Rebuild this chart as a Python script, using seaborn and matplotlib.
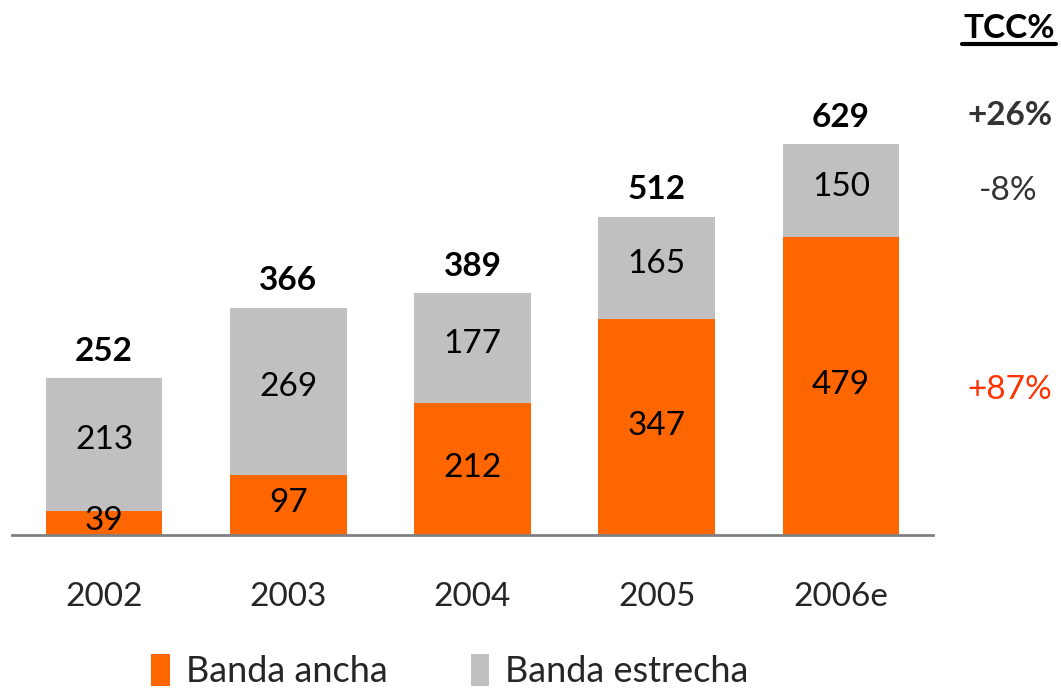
import matplotlib.pyplot as plt
import matplotlib.lines as mlines
import seaborn as sns

years = ['2002', '2003', '2004', '2005', '2006e']
banda_ancha = [39, 97, 212, 347, 479]
banda_estrecha = [213, 269, 177, 165, 150]
totals = [252, 366, 389, 512, 629]
tcc_labels = ['+26%', '-8%', '+87%']

orange = '#FF6600'
grey = '#C0C0C0'

sns.set_theme(style='white')
plt.rcParams['font.family'] = ['Lato', 'DejaVu Sans']

fig = plt.figure(figsize=(10.61, 6.88), dpi=100)
ax = fig.add_axes([0.0113, 0.2224, 0.8681, 0.6323])

# stacked bars: total in grey behind, banda ancha in orange on top
sns.barplot(x=years, y=totals, color=grey, width=0.634, ax=ax,
            label='Banda estrecha', saturation=1, linewidth=0)
sns.barplot(x=years, y=banda_ancha, color=orange, width=0.634, ax=ax,
            label='Banda ancha', saturation=1, linewidth=0)

grey_bars = ax.containers[0]
orange_bars = ax.containers[1]

# segment labels
for rect, val in zip(orange_bars, banda_ancha):
    ax.annotate(str(val), (rect.get_x() + rect.get_width() / 2, val / 2),
                xytext=(0, 1), textcoords='offset points',
                ha='center', va='center', fontsize=24, color='black')
for rect, val, low in zip(grey_bars, banda_estrecha, banda_ancha):
    ax.annotate(str(val), (rect.get_x() + rect.get_width() / 2, low + val / 2),
                xytext=(0, 3), textcoords='offset points',
                ha='center', va='center', fontsize=24, color='black')
ax.bar_label(grey_bars, labels=[str(v) for v in totals], padding=9,
             fontsize=24, fontweight='bold', color='black')

ax.set_xlim(-0.5, 4.5)
ax.set_ylim(0, 700)
ax.set_yticks([])
ax.set_xlabel('')
ax.set_ylabel('')
for s in ['top', 'right', 'left']:
    ax.spines[s].set_visible(False)
ax.spines['bottom'].set_color('#808080')
ax.spines['bottom'].set_linewidth(2)
ax.tick_params(axis='x', labelsize=24, pad=34, length=0)

# legend
h, l = ax.get_legend_handles_labels()
order = [l.index('Banda ancha'), l.index('Banda estrecha')]
fig.legend([h[i] for i in order], [l[i] for i in order],
           loc='center', bbox_to_anchor=(0.424, 0.025), ncol=2,
           frameon=False, fontsize=26, handlelength=0.5,
           handleheight=1.0, handletextpad=0.45, columnspacing=2.3)
if ax.get_legend():
    ax.get_legend().remove()

# growth column
fig.text(0.951, 0.958, 'TCC%', ha='center', va='center', fontsize=24,
         fontweight='bold', color='black')
fig.add_artist(mlines.Line2D([0.907, 0.995], [0.936, 0.936],
                             color='black', linewidth=3))
fig.text(0.952, 0.832, tcc_labels[0], ha='center', va='center', fontsize=24,
         fontweight='bold', color='#333333')
fig.text(0.950, 0.723, tcc_labels[1], ha='center', va='center', fontsize=24,
         color='#333333')
fig.text(0.952, 0.433, tcc_labels[2], ha='center', va='center', fontsize=24,
         color='#FF3300')

plt.savefig('out.png', dpi=100)
